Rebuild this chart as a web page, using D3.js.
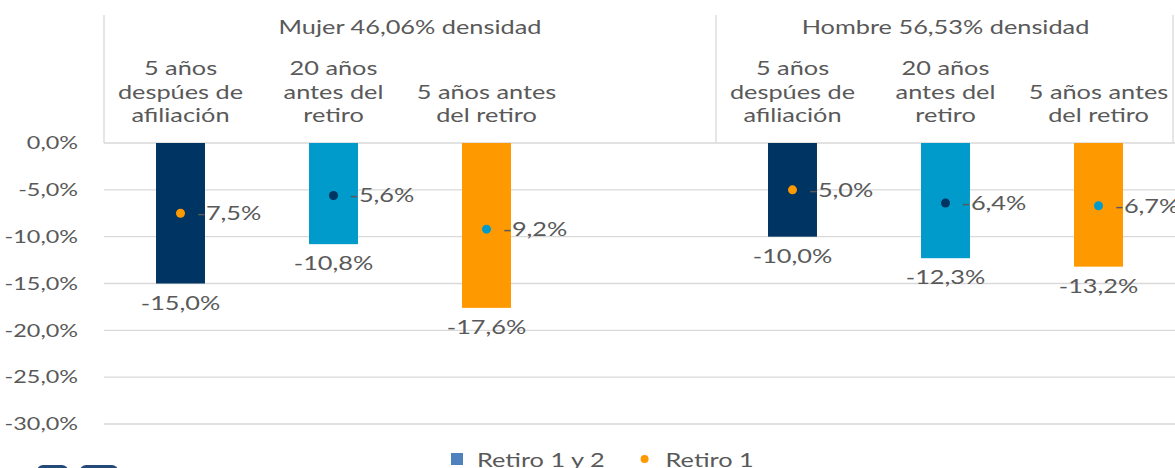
<!DOCTYPE html>
<html>
<head>
<meta charset="utf-8">
<script src="https://cdn.jsdelivr.net/npm/d3@7"></script>
<style>
  html, body { margin: 0; padding: 0; background: #fff; }
  svg { display: block; font-family: Lato, "Open Sans", sans-serif; }
</style>
</head>
<body>
<svg id="chart" width="1175" height="468"></svg>
<script>
const groupTitles = ["Mujer 46,06% densidad", "Hombre 56,53% densidad"];
const categoryLines = [
  ["5 años", "despúes de", "afiliación"],
  ["20 años", "antes del", "retiro"],
  ["5 años antes", "del retiro"],
];
const mujerBars = [-15.0, -10.8, -17.6];
const hombreBars = [-10.0, -12.3, -13.2];
const mujerDots = [-7.5, -5.6, -9.2];
const hombreDots = [-5.0, -6.4, -6.7];
const barColors = ["#003462", "#009bcb", "#ff9900"];
const dotColors = ["#ff9900", "#003462", "#009bcb"];
const yTicks = [0, -5, -10, -15, -20, -25, -30];
const legendItems = [["Retiro 1 y 2", "rect", "#4f81bd"], ["Retiro 1", "dot", "#ff9900"]];

const width = 1175;
const height = 468;
const textColor = "#595959";
const gridColor = "#d9d9d9";
const fontSize = 19.5;
const axisFontSize = 18;

const svg = d3.select("#chart");

// slot 3 is the empty spacer that closes the Mujer group
const slots = d3.range(7);
const rows = [];
[[mujerBars, mujerDots, 0], [hombreBars, hombreDots, 4]].forEach(([bars, dots, start]) => {
  bars.forEach((value, i) => {
    rows.push({ slot: start + i, cat: i, bar: value, dot: dots[i] });
  });
});

const x = d3.scaleBand().domain(slots).range([104, width]).paddingInner(0.68).paddingOuter(0.34);
const y = d3.scaleLinear().domain([0, -30]).range([143, 424]);

const fmt = (v) => d3.format(".1f")(v).replace(".", ",").replace("−", "-") + "%";

// measure one title to find the horizontal stretch of the reference lettering
const probe = svg.append("text").attr("font-size", fontSize).text(groupTitles[0]);
const sx = 263 / probe.node().getComputedTextLength();
probe.remove();

function place(sel, px, py) {
  return sel.attr("transform", `translate(${px},${py}) scale(${sx},1)`);
}

// gridlines
svg.append("g")
  .selectAll("line")
  .data(yTicks)
  .join("line")
  .attr("x1", x.range()[0])
  .attr("x2", width)
  .attr("y1", (d) => y(d))
  .attr("y2", (d) => y(d))
  .attr("stroke", gridColor)
  .attr("stroke-width", 1.3);

// header box borders
const step = x.step();
const borders = [x.range()[0], x.range()[0] + 4 * step, width - 2];
svg.append("g")
  .selectAll("line")
  .data(borders)
  .join("line")
  .attr("x1", (d) => d)
  .attr("x2", (d) => d)
  .attr("y1", 15)
  .attr("y2", y(0))
  .attr("stroke", gridColor)
  .attr("stroke-width", 1.3);

// y axis labels
svg.append("g")
  .selectAll("text")
  .data(yTicks)
  .join("text")
  .attr("font-size", axisFontSize)
  .attr("fill", textColor)
  .attr("text-anchor", "end")
  .attr("dy", "0.35em")
  .each(function (d) { place(d3.select(this), 78, y(d)); })
  .text(fmt);

// group titles
const groupSpans = [[0, 3], [4, 6]];
svg.append("g")
  .selectAll("text")
  .data(groupTitles)
  .join("text")
  .attr("font-size", fontSize)
  .attr("fill", textColor)
  .attr("text-anchor", "middle")
  .each(function (d, i) {
    const [a, b] = groupSpans[i];
    const left = x.range()[0] + a * step;
    const right = i === 0 ? x.range()[0] + (b + 1) * step : width;
    place(d3.select(this), (left + right) / 2, 34);
  })
  .text((d) => d);

// category labels, bottom aligned
const catG = svg.append("g");
rows.forEach((row) => {
  const lines = categoryLines[row.cat];
  lines.forEach((line, j) => {
    place(catG.append("text"), x(row.slot) + x.bandwidth() / 2, 122 - (lines.length - 1 - j) * 23.5)
      .attr("font-size", fontSize)
      .attr("fill", textColor)
      .attr("text-anchor", "middle")
      .text(line);
  });
});

// bars
svg.append("g")
  .selectAll("rect")
  .data(rows)
  .join("rect")
  .attr("x", (d) => x(d.slot))
  .attr("y", y(0))
  .attr("width", x.bandwidth())
  .attr("height", (d) => y(d.bar) - y(0))
  .attr("fill", (d) => barColors[d.cat]);

// bar value labels
svg.append("g")
  .selectAll("text")
  .data(rows)
  .join("text")
  .attr("font-size", fontSize)
  .attr("fill", textColor)
  .attr("text-anchor", "middle")
  .each(function (d) { place(d3.select(this), x(d.slot) + x.bandwidth() / 2, y(d.bar) + 26); })
  .text((d) => fmt(d.bar));

// dots
svg.append("g")
  .selectAll("circle")
  .data(rows)
  .join("circle")
  .attr("cx", (d) => x(d.slot) + x.bandwidth() / 2)
  .attr("cy", (d) => y(d.dot))
  .attr("r", 4.5)
  .attr("fill", (d) => dotColors[d.cat]);

// dot value labels
svg.append("g")
  .selectAll("text")
  .data(rows)
  .join("text")
  .attr("font-size", fontSize)
  .attr("fill", textColor)
  .attr("text-anchor", "start")
  .each(function (d) { place(d3.select(this), x(d.slot) + x.bandwidth() / 2 + 16, y(d.dot) + 7); })
  .text((d) => fmt(d.dot));

// legend
const legend = svg.append("g");
let lx = 451;
legendItems.forEach(([label, kind, color]) => {
  if (kind === "rect") {
    legend.append("rect").attr("x", lx).attr("y", 453).attr("width", 12).attr("height", 12).attr("fill", color);
  } else {
    legend.append("circle").attr("cx", lx + 5).attr("cy", 459).attr("r", 4).attr("fill", color);
  }
  const t = place(legend.append("text"), lx + 26, 467)
    .attr("font-size", fontSize)
    .attr("fill", textColor)
    .text(label);
  lx += 26 + t.node().getComputedTextLength() * sx + 35;
});

// bottom-left logo, mostly cut off by the frame
svg.append("g")
  .selectAll("rect")
  .data([[37, 31], [80, 38]])
  .join("rect")
  .attr("x", (d) => d[0])
  .attr("y", 465)
  .attr("width", (d) => d[1])
  .attr("height", 14)
  .attr("rx", 6)
  .attr("fill", "#254a7a");
</script>
</body>
</html>
